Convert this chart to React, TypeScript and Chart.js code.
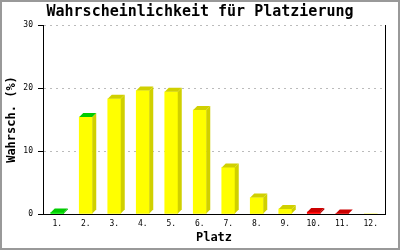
import { useEffect, useRef } from "react";
import { Chart, registerables } from "chart.js";

Chart.register(...registerables);

const categories = ["1.", "2.", "3.", "4.", "5.", "6.", "7.", "8.", "9.", "10.", "11.", "12."];
const values = [0.25, 15.4, 18.3, 19.6, 19.4, 16.5, 7.4, 2.6, 0.8, 0.3, 0.08, 0];
const frontColors = ["#00ee00", "#ffff00", "#ffff00", "#ffff00", "#ffff00", "#ffff00", "#ffff00", "#ffff00", "#ffff00", "#ff0000", "#ff0000", "#ffff00"];
const topColors = ["#00cc00", "#00cc00", "#d0d000", "#d0d000", "#d0d000", "#d0d000", "#d0d000", "#d0d000", "#d0d000", "#cc0000", "#cc0000", "#d0d000"];
const sideColors = ["#00aa00", "#d0d000", "#d0d000", "#d0d000", "#d0d000", "#d0d000", "#d0d000", "#d0d000", "#d0d000", "#aa0000", "#aa0000", "#d0d000"];
const yTicks = [0, 10, 20, 30];

const FONT = "'DejaVu Sans Mono', 'Liberation Mono', monospace";
const DEPTH = 4;

const bar3d = {
  id: "bar3d",
  afterDatasetsDraw(chart: any) {
    const ctx = chart.ctx;
    const meta = chart.getDatasetMeta(0);
    ctx.save();
    meta.data.forEach((el: any, i: number) => {
      if (!(values[i] > 0)) return;
      const { x, y, base, width } = el.getProps(["x", "y", "base", "width"], true);
      const l = x - width / 2;
      const r = x + width / 2;
      ctx.fillStyle = sideColors[i];
      ctx.beginPath();
      ctx.moveTo(r, y);
      ctx.lineTo(r + DEPTH, y - DEPTH);
      ctx.lineTo(r + DEPTH, base - DEPTH);
      ctx.lineTo(r, base);
      ctx.closePath();
      ctx.fill();
      ctx.fillStyle = topColors[i];
      ctx.beginPath();
      ctx.moveTo(l, y);
      ctx.lineTo(l + DEPTH, y - DEPTH);
      ctx.lineTo(r + DEPTH, y - DEPTH);
      ctx.lineTo(r, y);
      ctx.closePath();
      ctx.fill();
    });
    ctx.restore();
  },
  afterDraw(chart: any) {
    const ctx = chart.ctx;
    ctx.save();
    ctx.fillStyle = "#999";
    ctx.fillRect(0, 0, chart.width, 2);
    ctx.fillRect(0, chart.height - 2, chart.width, 2);
    ctx.fillRect(0, 0, 2, chart.height);
    ctx.fillRect(chart.width - 2, 0, 2, chart.height);
    ctx.restore();
  },
};

export default function App() {
  const ref = useRef<HTMLCanvasElement>(null);
  useEffect(() => {
    if (!ref.current) return;
    const chart = new Chart(ref.current, {
      type: "bar",
      data: {
        labels: categories,
        datasets: [
          {
            data: values,
            backgroundColor: frontColors,
            borderWidth: 0,
            barThickness: 13,
          },
        ],
      },
      options: {
        animation: false,
        responsive: false,
        devicePixelRatio: 1,
        layout: { padding: 0 },
        plugins: {
          legend: { display: false },
          tooltip: { enabled: false },
          title: {
            display: true,
            text: "Wahrscheinlichkeit für Platzierung",
            color: "#000",
            font: { family: FONT, size: 15, weight: "bold" },
            padding: { top: 3, bottom: 4 },
          },
        },
        scales: {
          x: {
            grid: { display: false, drawTicks: false },
            border: { display: true, color: "#000", width: 1 },
            ticks: { color: "#000", font: { family: FONT, size: 8 }, padding: 5, maxRotation: 0, autoSkip: false },
            title: {
              display: true,
              text: "Platz",
              color: "#000",
              font: { family: FONT, size: 12, weight: "bold" },
              padding: { top: 0, bottom: 5 },
            },
            afterFit(scale: any) {
              scale.height = 36;
            },
          },
          y: {
            min: 0,
            max: 30,
            afterBuildTicks(scale: any) {
              scale.ticks = yTicks.map((v) => ({ value: v }));
            },
            grid: {
              color: "#bbbbbb",
              lineWidth: 1,
              tickColor: "#000",
              tickLength: 5,
              tickBorderDash: [],
            },
            border: { display: true, color: "#000", width: 1, dash: [2, 4] },
            ticks: { color: "#000", font: { family: FONT, size: 8 }, padding: 5 },
            title: {
              display: true,
              text: "Wahrsch. (%)",
              color: "#000",
              font: { family: FONT, size: 12, weight: "bold" },
              padding: { top: 5, bottom: 0 },
            },
            afterFit(scale: any) {
              scale.width = 43;
            },
          },
          y2: {
            position: "right",
            min: 0,
            max: 30,
            grid: { display: false, drawTicks: false },
            border: { display: true, color: "#000", width: 1 },
            ticks: { display: false },
            afterFit(scale: any) {
              scale.width = 15;
            },
          },
        },
      },
      plugins: [bar3d],
    });
    return () => chart.destroy();
  }, []);
  return (
    <div style={{ position: "fixed", left: 0, top: 0, width: 400, height: 250, background: "#fff" }}>
      <canvas ref={ref} width={400} height={250} />
    </div>
  );
}
